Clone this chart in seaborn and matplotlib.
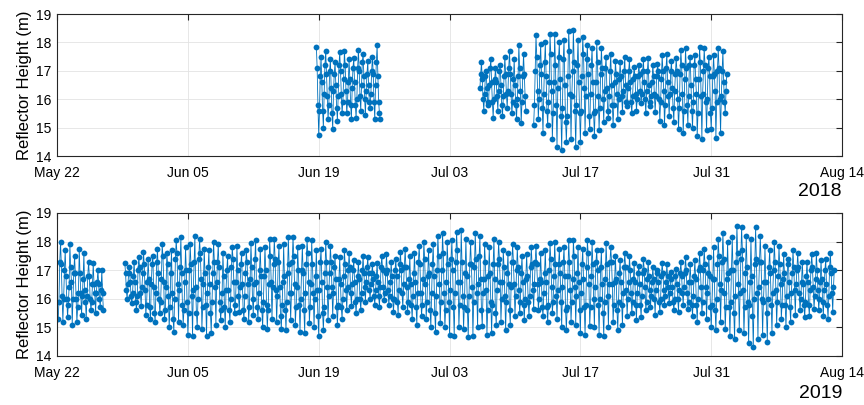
import matplotlib
matplotlib.use("Agg")
import matplotlib.pyplot as plt
import matplotlib.dates as mdates
import pandas as pd
import seaborn as sns
from datetime import datetime

# Reflector height retrievals (m), one value every 2 hours within each segment.
# 2018 segments
start_2018_a = "2018-06-18 18:00"
height_2018_a = [
    17.85, 17.1, 15.8, 14.75, 15.6, 16.8, 17.5, 16.6, 15.6, 15.0, 16.2, 17.2,
    17.7, 16.9, 16.1, 15.3, 15.8, 17.0, 17.4, 16.4, 15.5, 14.95, 16.3, 16.9,
    17.3, 16.5, 15.7, 15.25, 16.1, 17.2, 17.65, 17.0, 16.2, 15.5, 15.9, 16.7,
    17.7, 17.2, 16.3, 15.5, 15.9, 16.6, 17.4, 16.7, 15.8, 15.3, 16.4, 17.1,
    17.45, 16.6, 15.8, 15.35, 16.0, 17.1, 17.75, 17.0, 16.1, 15.6, 16.5, 17.3,
    17.6, 16.8, 16.0, 15.45, 16.3, 16.9, 17.35, 16.5, 15.9, 15.7, 16.2, 17.0,
    17.5, 16.9, 15.9, 15.3, 16.5, 17.3, 17.9, 16.8, 15.9, 15.5, 15.3,
]
start_2018_b = "2018-07-06 06:00"
height_2018_b = [
    16.4, 16.9, 17.3, 16.7, 16.0, 15.6, 16.2, 16.8, 17.0, 16.4, 15.9, 15.8,
    16.5, 17.1, 17.4, 16.6, 15.9, 15.35, 16.0, 16.7, 17.1, 16.6, 16.1, 15.6,
    16.3, 17.0, 17.2, 16.5, 15.8, 15.4, 16.1, 16.8, 17.5, 16.9, 16.2, 15.7,
    16.3, 17.1, 17.7, 16.9, 16.2, 15.5, 15.9, 16.7, 17.4, 16.5, 15.8, 15.3,
    16.0, 16.8, 17.9, 17.1, 16.3, 15.15, 15.9, 16.8, 17.6, 16.9, 16.1, 15.6,
]
start_2018_c = "2018-07-12 00:00"
height_2018_c = [
    15.1, 15.8, 17.0, 18.25, 17.5, 16.3, 15.3, 16.0, 17.2, 17.95, 16.9, 15.7,
    14.8, 16.2, 17.3, 18.0, 16.8, 15.6, 15.1, 15.9, 16.6, 18.3, 17.6, 16.3,
    14.6, 15.5, 16.6, 18.3, 17.2, 15.8, 14.3, 16.4, 17.5, 18.0, 16.7, 15.4,
    14.2, 15.7, 17.4, 18.1, 16.5, 15.2, 14.5, 15.4, 16.8, 18.4, 17.7, 16.2,
    14.6, 16.1, 17.0, 18.45, 17.3, 15.6, 14.3, 15.8, 17.2, 18.1, 16.6, 15.5,
    14.5, 15.6, 16.8, 18.2, 17.6, 16.4, 14.8, 16.1, 17.4, 17.9, 16.9, 15.4,
    14.95, 16.2, 17.2, 17.8, 16.6, 15.5, 14.7, 15.6, 16.6, 18.0, 17.3, 16.1,
    14.9, 15.7, 16.9, 17.8, 17.1, 16.0, 15.2, 16.3, 17.1, 17.5, 16.4, 15.6,
    15.35, 16.1, 17.0, 17.6, 16.5, 15.8, 15.1, 15.8, 16.6, 17.35, 16.9, 16.2,
    15.3, 16.0, 16.7, 17.3, 16.8, 16.1, 15.55, 16.3, 17.0, 17.5, 16.5, 15.9,
    15.75, 16.4, 17.0, 17.4, 16.6, 15.9, 15.5, 16.1, 16.7, 17.15, 16.8, 16.2,
    15.6, 16.0, 16.8, 17.2, 16.9, 16.3, 15.85, 16.2, 17.0, 17.4, 16.6, 16.0,
    15.5, 16.3, 17.0, 17.45, 16.5, 15.9, 15.75, 16.1, 16.6, 17.2, 16.8, 16.2,
    15.55, 16.1, 16.8, 17.25, 17.0, 16.0, 15.25, 15.9, 16.7, 17.55, 17.0, 16.3,
    15.1, 15.8, 17.1, 17.6, 16.6, 16.1, 15.4, 16.2, 17.0, 17.35, 16.4, 15.7,
    15.2, 16.3, 16.9, 17.45, 17.0, 16.0, 14.95, 15.7, 16.9, 17.75, 17.2, 16.2,
    14.8, 15.6, 16.7, 17.8, 17.1, 15.8, 15.1, 16.1, 17.2, 17.5, 16.5, 15.6,
    15.0, 15.9, 17.2, 17.55, 16.7, 16.2, 14.7, 15.5, 16.7, 17.85, 17.3, 16.1,
    14.6, 16.2, 17.0, 17.8, 17.2, 15.9, 14.9, 16.0, 17.1, 17.5, 16.8, 15.5,
    14.95, 15.7, 16.8, 17.55, 16.9, 16.3, 14.65, 15.9, 17.0, 17.8, 17.1, 16.0,
    14.8, 16.1, 17.0, 17.7, 16.6, 15.9, 15.5, 16.3, 16.9,
]

# 2019 segments
start_2019_a = "2019-05-22 03:00"
height_2019_a = [
    15.3, 15.9, 17.3, 18.0, 17.2, 16.1, 15.2, 16.0, 17.0, 17.7, 16.8, 16.0,
    15.35, 15.8, 16.4, 17.9, 17.1, 16.6, 15.1, 16.0, 16.9, 17.5, 16.9, 16.0,
    15.2, 15.7, 16.2, 17.75, 16.9, 16.2, 15.45, 16.1, 16.7, 17.6, 16.3, 15.9,
    15.3, 16.1, 16.8, 17.3, 16.8, 16.0, 15.6, 15.9, 16.5, 17.25, 16.5, 16.2,
    15.5, 16.2, 16.6, 17.0, 16.5, 16.0, 15.7, 16.3, 17.0, 16.2, 15.6,
]
start_2019_b = "2019-05-29 06:00"
height_2019_b = [
    17.25, 16.9, 16.3, 16.0, 16.5, 16.9, 17.1, 16.6, 16.1, 15.85, 16.2, 16.8,
    17.3, 16.6, 15.9, 15.6, 16.1, 17.0, 17.45, 17.1, 16.2, 15.75, 16.4, 16.9,
    17.65, 17.2, 16.3, 15.45, 15.8, 16.6, 17.4, 16.7, 15.7, 15.3, 16.5, 17.2,
    17.5, 16.4, 15.5, 15.2, 16.2, 17.3, 17.75, 16.9, 16.0, 15.5, 15.9, 16.7,
    17.9, 17.5, 16.6, 15.3, 15.6, 16.4, 17.6, 17.2, 16.1, 15.0, 15.7, 16.9,
    17.7, 16.2, 15.3, 14.85, 16.0, 17.4, 18.05, 17.6, 16.5, 15.2, 16.3, 17.1,
    18.15, 16.9, 15.8, 15.1, 15.6, 16.6, 17.8, 17.0, 15.9, 14.75, 15.5, 17.0,
    17.9, 17.2, 16.1, 14.7, 16.3, 17.3, 18.2, 16.4, 15.5, 15.0, 16.0, 17.4,
    18.1, 17.6, 16.7, 14.95, 15.7, 16.5, 17.75, 16.9, 15.8, 14.7, 16.2, 17.1,
    17.7, 16.5, 15.5, 14.8, 15.9, 16.9, 18.0, 17.3, 16.4, 15.1, 16.6, 17.3,
    17.9, 17.1, 15.9, 15.25, 15.6, 16.2, 17.6, 16.8, 15.7, 15.0, 16.3, 17.0,
    17.5, 16.3, 15.6, 15.2, 16.0, 17.1, 17.8, 17.4, 16.6, 15.5, 15.8, 16.6,
    17.85, 17.0, 16.1, 15.55, 16.4, 17.2, 17.6, 16.5, 15.6, 15.3, 16.1, 16.9,
    17.7, 17.3, 16.5, 15.2, 15.7, 16.7, 17.95, 17.1, 16.0, 15.45, 16.5, 17.4,
    18.05, 16.6, 15.7, 15.3, 16.2, 17.0, 17.75, 16.8, 15.6, 15.0, 15.9, 16.8,
    17.8, 17.0, 15.8, 14.95, 15.6, 16.5, 18.1, 17.5, 16.6, 15.3, 16.4, 17.2,
    18.1, 17.4, 16.3, 15.2, 16.1, 17.3, 17.85, 16.4, 15.4, 14.95, 15.8, 16.6,
    17.9, 16.8, 15.6, 14.9, 15.9, 16.9, 18.15, 17.2, 16.2, 15.25, 16.2, 17.3,
    18.15, 17.5, 16.5, 15.1, 15.7, 16.4, 17.8, 17.0, 15.8, 14.85, 16.0, 17.0,
    17.85, 16.9, 15.6, 14.8, 16.2, 17.2, 18.1, 17.6, 16.6, 15.15, 15.7, 16.5,
    18.05, 17.2, 16.2, 15.0, 16.0, 16.8, 17.7, 16.3, 15.4, 14.7, 16.3, 17.3,
    17.75, 16.6, 15.5, 14.9, 15.7, 16.9, 18.0, 17.3, 16.4, 15.25, 16.1, 16.9,
    17.85, 17.3, 16.4, 15.4, 16.2, 17.1, 17.5, 16.7, 15.7, 15.1, 15.8, 16.7,
    17.45, 16.5, 15.7, 15.3, 16.0, 16.8, 17.7, 17.2, 16.3, 15.6, 16.4, 17.0,
    17.6, 17.1, 16.2, 15.75, 16.5, 17.0, 17.35, 16.6, 15.9, 15.5, 16.0, 16.8,
    17.3, 16.7, 16.0, 15.6, 16.2, 17.0, 17.5, 16.9, 16.4, 15.9, 16.6, 17.1,
    17.45, 16.9, 16.3, 16.0, 16.5, 16.9, 17.2, 16.7, 16.1, 15.8, 16.3, 16.8,
    17.25, 16.6, 16.1, 15.7, 16.4, 17.1, 17.5, 17.0, 16.4, 15.95, 16.2, 16.9,
    17.55, 17.0, 16.3, 15.8, 16.1, 16.6, 17.3, 16.8, 16.0, 15.55, 16.0, 17.0,
    17.4, 16.8, 15.9, 15.45, 16.3, 17.2, 17.65, 17.0, 16.2, 15.7, 16.5, 17.1,
    17.75, 17.1, 16.4, 15.55, 15.9, 16.7, 17.5, 16.5, 15.8, 15.3, 16.1, 16.9,
    17.6, 16.6, 15.7, 15.1, 16.2, 17.3, 17.85, 17.2, 16.2, 15.4, 15.8, 16.7,
    18.0, 17.4, 16.5, 15.3, 15.9, 16.8, 17.7, 16.9, 15.6, 15.0, 16.2, 17.2,
    17.9, 16.8, 15.5, 14.85, 16.1, 17.0, 18.2, 17.5, 16.5, 15.15, 15.9, 17.0,
    18.3, 17.6, 16.2, 15.0, 15.6, 16.6, 18.0, 17.2, 15.9, 14.75, 16.3, 17.4,
    18.05, 17.0, 15.7, 14.7, 16.2, 17.3, 18.35, 17.7, 16.6, 15.0, 15.8, 16.6,
    18.4, 17.3, 16.1, 14.95, 15.7, 16.9, 18.1, 16.8, 15.6, 14.65, 16.1, 17.2,
    18.0, 17.2, 16.4, 14.7, 15.9, 17.1, 18.3, 17.4, 16.2, 15.0, 16.5, 17.5,
    18.2, 16.7, 15.6, 15.05, 16.2, 16.7, 17.9, 17.3, 16.3, 14.75, 15.6, 16.8,
    17.8, 16.9, 15.9, 14.8, 15.8, 17.2, 18.1, 16.7, 15.5, 15.1, 16.3, 17.2,
    18.0, 17.4, 16.6, 15.2, 16.0, 16.6, 17.7, 17.1, 16.1, 14.9, 15.9, 16.9,
    17.6, 16.5, 15.6, 15.1, 16.4, 17.3, 17.9, 17.3, 16.5, 15.4, 16.1, 17.0,
    17.8, 17.1, 16.3, 15.5, 15.9, 16.9, 17.5, 16.6, 15.8, 15.25, 16.0, 16.7,
    17.55, 16.8, 15.9, 15.4, 16.1, 17.1, 17.8, 17.2, 16.3, 15.65, 16.5, 17.3,
    17.85, 17.2, 16.5, 15.6, 16.0, 16.7, 17.6, 16.6, 15.7, 15.4, 16.2, 16.9,
    17.7, 16.6, 15.7, 15.2, 15.8, 17.0, 17.95, 17.4, 16.4, 15.5, 15.9, 16.8,
    18.0, 17.2, 16.1, 15.3, 16.3, 17.2, 17.75, 16.9, 15.9, 15.0, 16.4, 17.3,
    17.8, 16.8, 15.6, 14.9, 15.7, 16.8, 18.05, 17.3, 16.3, 15.2, 15.9, 16.7,
    18.05, 17.5, 16.4, 15.1, 16.1, 16.9, 17.8, 16.6, 15.6, 14.8, 16.2, 17.2,
    17.75, 16.7, 15.7, 14.75, 15.8, 17.1, 18.05, 17.6, 16.5, 15.05, 15.7, 16.8,
    18.0, 17.2, 16.0, 15.0, 16.4, 17.3, 17.7, 17.0, 15.8, 14.75, 16.0, 17.1,
    17.7, 16.5, 15.5, 14.7, 15.9, 16.7, 17.95, 17.2, 16.1, 15.0, 16.5, 17.3,
    17.8, 17.3, 16.5, 15.2, 15.8, 16.6, 17.5, 16.7, 15.6, 14.9, 15.9, 16.9,
    17.35, 16.6, 15.8, 15.1, 16.2, 17.1, 17.6, 17.1, 16.3, 15.4, 16.0, 16.6,
    17.5, 17.0, 16.2, 15.5, 15.9, 16.7, 17.25, 16.6, 15.8, 15.25, 16.2, 16.9,
    17.15, 16.5, 15.8, 15.35, 16.1, 16.9, 17.4, 17.0, 16.4, 15.6, 15.9, 16.7,
    17.3, 16.8, 16.3, 15.7, 16.1, 16.6, 17.1, 16.7, 16.0, 15.45, 16.3, 16.9,
    17.0, 16.6, 15.9, 15.55, 16.0, 16.8, 17.25, 16.9, 16.3, 15.8, 16.1, 16.6,
    17.2, 16.8, 16.4, 15.85, 16.2, 16.7, 16.95, 16.4, 15.9, 15.6, 16.0, 16.8,
    17.05, 16.5, 16.0, 15.55, 16.3, 16.9, 17.3, 16.8, 16.2, 15.8, 16.4, 16.9,
    17.45, 17.0, 16.2, 15.65, 15.9, 16.6, 17.2, 16.6, 15.8, 15.4, 16.1, 16.8,
    17.35, 16.7, 15.8, 15.2, 16.0, 17.0, 17.6, 17.1, 16.4, 15.5, 15.9, 17.0,
    17.75, 17.2, 16.4, 15.3, 16.2, 16.9, 17.45, 16.8, 15.7, 15.0, 15.8, 16.7,
    17.8, 16.7, 15.6, 14.9, 16.0, 17.2, 18.1, 17.5, 16.5, 15.2, 16.3, 17.3,
    18.3, 17.4, 16.2, 14.95, 15.7, 16.7, 18.0, 16.9, 15.7, 14.7, 15.9, 17.0,
    18.15, 17.0, 15.5, 14.6, 16.1, 17.3, 18.55, 17.6, 16.5, 14.9, 16.2, 17.4,
    18.5, 17.7, 16.3, 14.8, 15.7, 16.9, 18.2, 17.1, 15.9, 14.45, 15.8, 16.6,
    18.1, 16.8, 15.4, 14.3, 16.0, 17.2, 18.5, 17.4, 16.2, 14.6, 16.4, 17.3,
    18.2, 17.3, 16.0, 14.75, 15.9, 16.6, 17.85, 16.6, 15.5, 14.5, 16.0, 17.1,
    17.7, 16.9, 15.8, 14.8, 16.2, 17.0, 18.0, 17.3, 16.3, 15.1, 15.9, 16.8,
    17.85, 17.2, 16.5, 15.3, 15.8, 16.7, 17.55, 16.9, 15.8, 15.0, 16.1, 17.2,
    17.4, 16.6, 15.7, 15.2, 16.2, 16.9, 17.7, 17.1, 16.3, 15.45, 16.5, 17.0,
    17.6, 17.1, 16.2, 15.6, 16.0, 16.6, 17.3, 16.5, 15.8, 15.35, 15.9, 16.8,
    17.3, 16.6, 15.8, 15.4, 16.3, 17.0, 17.55, 17.1, 16.4, 15.65, 16.1, 16.7,
    17.6, 17.0, 16.3, 15.6, 16.0, 16.6, 17.35, 16.7, 15.9, 15.4, 16.3, 17.0,
    17.4, 16.5, 15.8, 15.3, 16.1, 17.1, 17.6, 16.9, 16.2, 15.55, 16.4, 17.0,
]

years = [2018, 2019]
tick_label_fmt = "%b %d"
y_ticks = [14, 15, 16, 17, 18, 19]
ylabel = "Reflector Height (m)"
LINE_COLOR = "#0072BD"


def build_frame(parts):
    frames = []
    for i, (start, heights) in enumerate(parts):
        t = pd.date_range(start, periods=len(heights), freq="2h")
        frames.append(pd.DataFrame({"time": t, "height": heights, "seg": i}))
    return pd.concat(frames, ignore_index=True)


df_2018 = build_frame([(start_2018_a, height_2018_a),
                       (start_2018_b, height_2018_b),
                       (start_2018_c, height_2018_c)])
df_2019 = build_frame([(start_2019_a, height_2019_a),
                       (start_2019_b, height_2019_b)])

sns.set_theme(style="white")
plt.rcParams["font.family"] = ["Liberation Sans", "DejaVu Sans"]

fig = plt.figure(figsize=(8.64, 4.05), dpi=100)
ax_top = fig.add_axes([0.0660, 0.6148, 0.9086, 0.3506])
ax_bot = fig.add_axes([0.0660, 0.1210, 0.9086, 0.3531])

for ax, df, year in [(ax_top, df_2018, years[0]), (ax_bot, df_2019, years[1])]:
    sns.lineplot(data=df, x="time", y="height", units="seg", estimator=None,
                 sort=False, color=LINE_COLOR, linewidth=0.6, marker="o",
                 markersize=4.2, markeredgewidth=0, ax=ax, legend=False)
    ax.set_xlim(datetime(year, 5, 22), datetime(year, 8, 14))
    ax.set_ylim(14, 19)
    ax.set_yticks(y_ticks)
    ax.set_xticks(pd.date_range(f"{year}-05-22", f"{year}-08-14", freq="14D"))
    ax.xaxis.set_major_formatter(mdates.DateFormatter(tick_label_fmt))
    ax.grid(True, color="#e3e3e3", linewidth=0.6)
    ax.set_axisbelow(True)
    for sp in ax.spines.values():
        sp.set_color("#262626")
        sp.set_linewidth(0.8)
    ax.tick_params(direction="in", top=True, right=True, length=4, width=0.8,
                   colors="#262626", labelcolor="#000000", labelsize=10)
    ax.tick_params(axis="x", pad=7)
    ax.tick_params(axis="y", pad=4)
    ax.set_xlabel("")
    ax.set_ylabel(ylabel, fontsize=12, color="#000000", labelpad=3)

fig.text(0.9745, 1 - 191 / 405, str(years[0]), ha="right", va="center",
         fontsize=14, color="#000000")
fig.text(0.9745, 1 - 393 / 405, str(years[1]), ha="right", va="center",
         fontsize=14, color="#000000")

fig.savefig("out.png", dpi=100)
